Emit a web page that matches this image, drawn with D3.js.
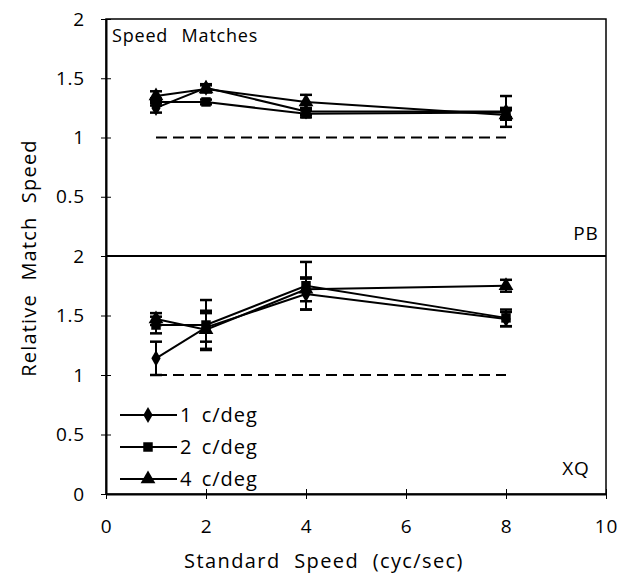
<!DOCTYPE html>
<html>
<head>
<meta charset="utf-8">
<script src="https://cdn.jsdelivr.net/npm/d3@7"></script>
<style>
  body { margin: 0; background: #fff; }
  svg text { font-family: "Open Sans", "DejaVu Sans", sans-serif; fill: #000; }
</style>
</head>
<body>
<svg id="chart" width="620" height="575"></svg>
<script>
// speeds tested (cyc/sec)
const speeds = [1, 2, 4, 8];
const seriesNames = ["1 c/deg", "2 c/deg", "4 c/deg"];
const markerTypes = ["diamond", "square", "triangle"];

// PB (top panel)
const pb1 = [1.25, 1.42, 1.22, 1.22];
const pb2 = [1.30, 1.30, 1.20, 1.21];
const pb4 = [1.35, 1.41, 1.30, 1.19];
const pbErr1 = [0.04, 0.03, 0.03, 0.13];
const pbErr2 = [0.03, 0.02, 0.03, 0.04];
const pbErr4 = [0.04, 0.03, 0.06, 0.04];

// XQ (bottom panel)
const xq1 = [1.14, 1.40, 1.68, 1.47];
const xq2 = [1.42, 1.42, 1.75, 1.48];
const xq4 = [1.47, 1.38, 1.72, 1.75];
const xqErr1 = [0.14, 0.12, 0.13, 0.06];
const xqErr2 = [0.07, 0.21, 0.20, 0.07];
const xqErr4 = [0.05, 0.16, 0.10, 0.05];

const xTicks = [0, 2, 4, 6, 8, 10];
const topTicks = [0.5, 1, 1.5, 2];
const bottomTicks = [0, 0.5, 1, 1.5, 2];
const refLevel = 1;

const svg = d3.select("#chart");

const x = d3.scaleLinear().domain([0, 10]).range([106, 606]);
const yTop = d3.scaleLinear().domain([0, 2]).range([256, 19]);
const yBot = d3.scaleLinear().domain([0, 2]).range([494, 256]);

const symbolOf = {
  diamond: d3.symbol().type(d3.symbolDiamond).size(75),
  square: d3.symbol().type(d3.symbolSquare).size(90),
  triangle: d3.symbol().type(d3.symbolTriangle).size(95)
};

// frame
svg.append("rect")
  .attr("x", x(0)).attr("y", yTop(2))
  .attr("width", x(10) - x(0)).attr("height", yBot(0) - yTop(2))
  .attr("fill", "none").attr("stroke", "#000").attr("stroke-width", 1.5);
svg.append("line")
  .attr("x1", x(0)).attr("x2", x(10))
  .attr("y1", yTop(0)).attr("y2", yTop(0))
  .attr("stroke", "#000").attr("stroke-width", 2.2);

function styleAxis(g) {
  g.select(".domain").attr("stroke-width", 2);
  g.selectAll("text").attr("font-size", 19).attr("letter-spacing", 0.8);
}

function yAxis(scale, ticks) {
  const g = svg.append("g")
    .attr("transform", `translate(${x(0)},0)`)
    .call(d3.axisLeft(scale).tickValues(ticks).tickFormat(d3.format("")).tickSizeInner(5).tickSizeOuter(0).tickPadding(16));
  g.selectAll(".tick line").attr("x1", 5);
  styleAxis(g);
}
yAxis(yTop, topTicks);
yAxis(yBot, bottomTicks);

const xg = svg.append("g")
  .attr("transform", `translate(0,${yBot(0)})`)
  .call(d3.axisBottom(x).tickValues(xTicks).tickSizeInner(5).tickSizeOuter(0).tickPadding(21));
xg.selectAll(".tick line").attr("y1", -5);
styleAxis(xg);

// panel contents
function drawPanel(y, vals, errs) {
  const g = svg.append("g");

  g.append("line")
    .attr("x1", x(1)).attr("x2", x(8))
    .attr("y1", y(refLevel)).attr("y2", y(refLevel))
    .attr("stroke", "#000").attr("stroke-width", 2)
    .attr("stroke-dasharray", "11,6");

  const line = d3.line().x((d, i) => x(speeds[i])).y(d => y(d));

  vals.forEach((v, s) => {
    g.append("path")
      .attr("d", line(v))
      .attr("fill", "none").attr("stroke", "#000").attr("stroke-width", 2);

    v.forEach((d, i) => {
      const cx = x(speeds[i]);
      const e = errs[s][i];
      g.append("line")
        .attr("x1", cx).attr("x2", cx)
        .attr("y1", y(d - e)).attr("y2", y(d + e))
        .attr("stroke", "#000").attr("stroke-width", 2);
      [d - e, d + e].forEach(c => {
        g.append("line")
          .attr("x1", cx - 6).attr("x2", cx + 6)
          .attr("y1", y(c)).attr("y2", y(c))
          .attr("stroke", "#000").attr("stroke-width", 2.5);
      });
      g.append("path")
        .attr("d", symbolOf[markerTypes[s]]())
        .attr("transform", `translate(${cx},${y(d)})`)
        .attr("fill", "#000");
    });
  });
}

drawPanel(yTop, [pb1, pb2, pb4], [pbErr1, pbErr2, pbErr4]);
drawPanel(yBot, [xq1, xq2, xq4], [xqErr1, xqErr2, xqErr4]);

// labels
svg.append("text")
  .attr("x", 112).attr("y", 42)
  .attr("font-size", 18).attr("letter-spacing", 0.8).attr("word-spacing", 8)
  .text("Speed Matches");
svg.append("text")
  .attr("x", 586).attr("y", 240).attr("text-anchor", "middle")
  .attr("font-size", 19).attr("letter-spacing", 0.8)
  .text("PB");
svg.append("text")
  .attr("x", 576).attr("y", 475).attr("text-anchor", "middle")
  .attr("font-size", 19).attr("letter-spacing", 0.8)
  .text("XQ");

// legend
const legend = svg.append("g");
seriesNames.forEach((name, i) => {
  const ly = 415 + i * 32;
  legend.append("line")
    .attr("x1", 120).attr("x2", 177)
    .attr("y1", ly).attr("y2", ly)
    .attr("stroke", "#000").attr("stroke-width", 1.8);
  legend.append("path")
    .attr("d", symbolOf[markerTypes[i]]())
    .attr("transform", `translate(148,${ly})`)
    .attr("fill", "#000");
  legend.append("text")
    .attr("x", 180).attr("y", ly + 7)
    .attr("font-size", 20).attr("letter-spacing", 1).attr("word-spacing", 3)
    .text(name);
});

// axis titles
svg.append("text")
  .attr("transform", `translate(36,258) rotate(-90)`)
  .attr("text-anchor", "middle")
  .attr("font-size", 20).attr("letter-spacing", 1.2).attr("word-spacing", 7)
  .text("Relative Match Speed");
svg.append("text")
  .attr("x", 324).attr("y", 568)
  .attr("text-anchor", "middle")
  .attr("font-size", 20).attr("letter-spacing", 1.4).attr("word-spacing", 7)
  .text("Standard Speed (cyc/sec)");
</script>
</body>
</html>
